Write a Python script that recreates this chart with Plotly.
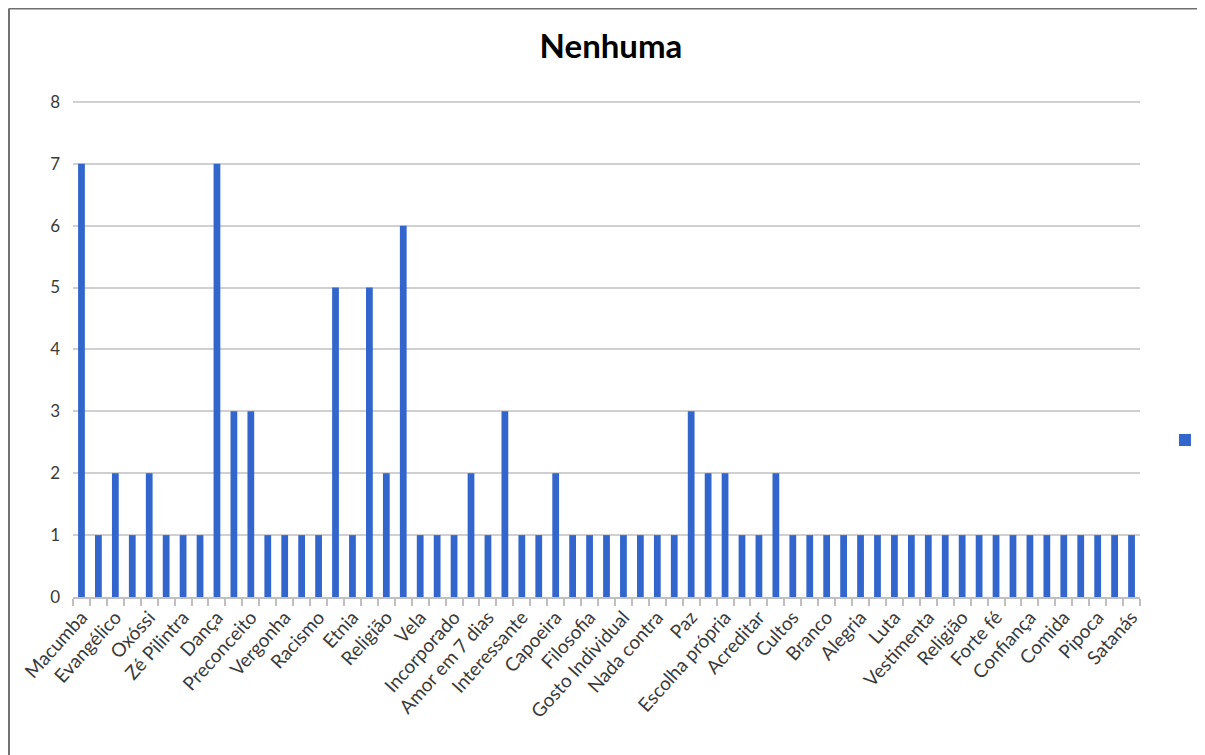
import plotly.graph_objects as go

title = "Nenhuma"

# Category labels (only every other category is labelled in the original)
labels = [
    "Macumba", "", "Evangélico", "", "Oxóssi", "", "Zé Pilintra", "", "Dança", "",
    "Preconceito", "", "Vergonha", "", "Racismo", "", "Etnia", "", "Religião", "",
    "Vela", "", "Incorporado", "", "Amor em 7 dias", "", "Interessante", "", "Capoeira", "",
    "Filosofia", "", "Gosto Individual", "", "Nada contra", "", "Paz", "", "Escolha própria", "",
    "Acreditar", "", "Cultos", "", "Branco", "", "Alegria", "", "Luta", "",
    "Vestimenta", "", "Religião", "", "Forte fé", "", "Confiança", "", "Comida", "",
    "Pipoca", "", "Satanás",
]

values = [
    7, 1, 2, 1, 2, 1, 1, 1, 7, 3,
    3, 1, 1, 1, 1, 5, 1, 5, 2, 6,
    1, 1, 1, 2, 1, 3, 1, 1, 2, 1,
    1, 1, 1, 1, 1, 1, 3, 2, 2, 1,
    1, 2, 1, 1, 1, 1, 1, 1, 1, 1,
    1, 1, 1, 1, 1, 1, 1, 1, 1, 1,
    1, 1, 1,
]

y_ticks = [0, 1, 2, 3, 4, 5, 6, 7, 8]

positions = list(range(len(values)))
tick_pos = [i for i, lab in enumerate(labels) if lab]
tick_txt = [lab for lab in labels if lab]
boundaries = [i - 0.5 for i in range(len(values) + 1)]

FONT = "Lato, 'Open Sans', sans-serif"

fig = go.Figure()
fig.add_trace(go.Bar(
    x=positions, y=values, name=" ",
    marker=dict(color="#3366cc", line=dict(width=0)),
    showlegend=True,
))

frame = dict(color="#707070", width=2)

fig.update_layout(
    width=1205, height=755,
    paper_bgcolor="white", plot_bgcolor="white",
    margin=dict(l=65, r=73, t=92, b=166, autoexpand=False),
    bargap=0.6,
    title=dict(text="<b>" + title + "</b>", x=0.5004, xanchor="center", y=0.949, yanchor="middle",
               font=dict(family=FONT, size=33, color="#000000")),
    font=dict(family=FONT, color="#3a3a3a"),
    legend=dict(x=1.0234, xanchor="left", y=0.316, yanchor="middle",
                font=dict(size=12), bgcolor="rgba(0,0,0,0)"),
    xaxis=dict(
        range=[-0.5, len(values) - 0.5],
        tickmode="array", tickvals=tick_pos, ticktext=tick_txt,
        tickangle=-48, ticks="", showgrid=False, zeroline=False,
        showline=True, linecolor="#bfbfbf", linewidth=1.5,
        automargin=False,
        tickfont=dict(family=FONT, size=19, color="#3a3a3a"),
        minor=dict(tickmode="array", tickvals=boundaries, ticks="outside",
                   ticklen=7, tickcolor="#bfbfbf", tickwidth=1.5, showgrid=False),
    ),
    yaxis=dict(
        range=[0, 8.03], tickmode="array", tickvals=y_ticks,
        showgrid=True, gridcolor="#d0d0d0", gridwidth=1.5, zeroline=False,
        showline=False, ticks="", ticklabelstandoff=12, automargin=False,
        tickfont=dict(family=FONT, size=17, color="#3a3a3a"),
    ),
    shapes=[
        dict(type="line", xref="paper", yref="paper", x0=-0.06, x1=-0.06, y0=-0.4, y1=1.184, line=frame),
        dict(type="line", xref="paper", yref="paper", x0=-0.06, x1=1.3, y0=1.184, y1=1.184, line=frame),
    ],
)

fig.write_html("out.html")
